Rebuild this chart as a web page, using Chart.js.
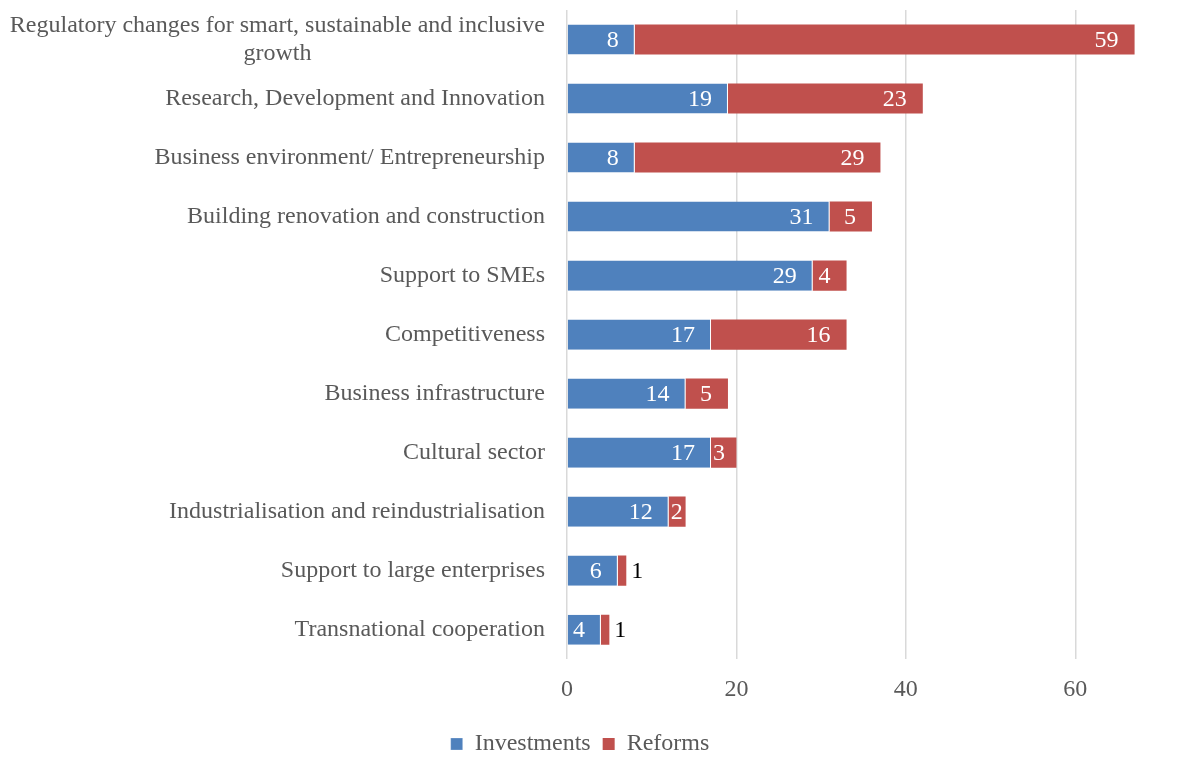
<!DOCTYPE html>
<html>
<head>
<meta charset="utf-8">
<script src="https://cdn.jsdelivr.net/npm/chart.js@4.4.1/dist/chart.umd.min.js"></script>
<style>
  body { margin: 0; background: #fff; }
  #wrap { width: 1192px; height: 766px; }
</style>
</head>
<body>
<div id="wrap"><canvas id="chart" width="1192" height="766"></canvas></div>
<script>
const categories = [
  ["Regulatory changes for smart, sustainable and inclusive", "growth"],
  ["Research, Development and Innovation"],
  ["Business environment/ Entrepreneurship"],
  ["Building renovation and construction"],
  ["Support to SMEs"],
  ["Competitiveness"],
  ["Business infrastructure"],
  ["Cultural sector"],
  ["Industrialisation and reindustrialisation"],
  ["Support to large enterprises"],
  ["Transnational cooperation"]
];
const investments = [8, 19, 8, 31, 29, 17, 14, 17, 12, 6, 4];
const reforms = [59, 23, 29, 5, 4, 16, 5, 3, 2, 1, 1];
const xTicks = [0, 20, 40, 60];

const FONT = '"Liberation Serif", "Times New Roman", serif';
const GREY = "#595959";

// category labels drawn by hand so the wrapped line is centred like the original
const categoryLabels = {
  id: "categoryLabels",
  afterDraw(chart) {
    const ctx = chart.ctx;
    const y = chart.scales.y;
    const right = chart.chartArea.left - 22;
    ctx.save();
    ctx.font = "24px " + FONT;
    ctx.fillStyle = GREY;
    ctx.textBaseline = "middle";
    ctx.textAlign = "left";
    categories.forEach((lines, i) => {
      const cy = y.getPixelForValue(i);
      const widest = Math.max(...lines.map(l => ctx.measureText(l).width));
      const lh = 28;
      const top = cy - (lines.length - 1) * lh / 2;
      lines.forEach((l, j) => {
        const w = ctx.measureText(l).width;
        ctx.fillText(l, right - widest + (widest - w) / 2, top + j * lh);
      });
    });
    ctx.restore();
  }
};

// value labels at the inside end of each segment, tiny ones outside
const valueLabels = {
  id: "valueLabels",
  afterDatasetsDraw(chart) {
    const ctx = chart.ctx;
    ctx.save();
    ctx.font = "24px " + FONT;
    ctx.textBaseline = "middle";
    ctx.textAlign = "left";
    chart.data.datasets.forEach((ds, di) => {
      const meta = chart.getDatasetMeta(di);
      meta.data.forEach((bar, i) => {
        const txt = String(ds.data[i]);
        const p = bar.getProps(["x", "base", "y"], true);
        const w = ctx.measureText(txt).width;
        const start = Math.min(p.x, p.base);
        const end = Math.max(p.x, p.base);
        if (end - start < w + 4) {
          ctx.fillStyle = "#000";
          ctx.fillText(txt, end + 5, p.y + 1);
        } else {
          ctx.fillStyle = "#fff";
          ctx.fillText(txt, Math.max(end - 16 - w, start + 2), p.y + 1);
        }
      });
    });
    ctx.restore();
  }
};

new Chart(document.getElementById("chart"), {
  type: "bar",
  data: {
    labels: categories.map(c => c.join(" ")),
    datasets: [
      {
        label: "Investments",
        data: investments,
        backgroundColor: "#4F81BD",
        borderColor: "#ffffff",
        borderWidth: { right: 1 },
        borderSkipped: false
      },
      {
        label: "Reforms",
        data: reforms,
        backgroundColor: "#C0504D",
        borderWidth: 0
      }
    ]
  },
  options: {
    indexAxis: "y",
    responsive: false,
    animation: false,
    layout: { padding: { top: 10, right: 32, bottom: 0, left: 0 } },
    barPercentage: 0.51,
    categoryPercentage: 1,
    scales: {
      x: {
        stacked: true,
        min: 0,
        max: 70,
        afterBuildTicks: s => { s.ticks = xTicks.map(v => ({ value: v })); },
        grid: { color: "#d9d9d9", lineWidth: 1.5, drawTicks: false },
        border: { display: false },
        ticks: { font: { family: FONT, size: 24 }, color: GREY, padding: 16 }
      },
      y: {
        stacked: true,
        grid: { display: false },
        border: { display: false },
        ticks: { display: false },
        afterFit: s => { s.width = 567; }
      }
    },
    plugins: {
      legend: {
        position: "bottom",
        labels: {
          font: { family: FONT, size: 24 },
          color: GREY,
          boxWidth: 12,
          boxHeight: 12,
          padding: 12
        }
      },
      tooltip: { enabled: false }
    }
  },
  plugins: [categoryLabels, valueLabels]
});
</script>
</body>
</html>
